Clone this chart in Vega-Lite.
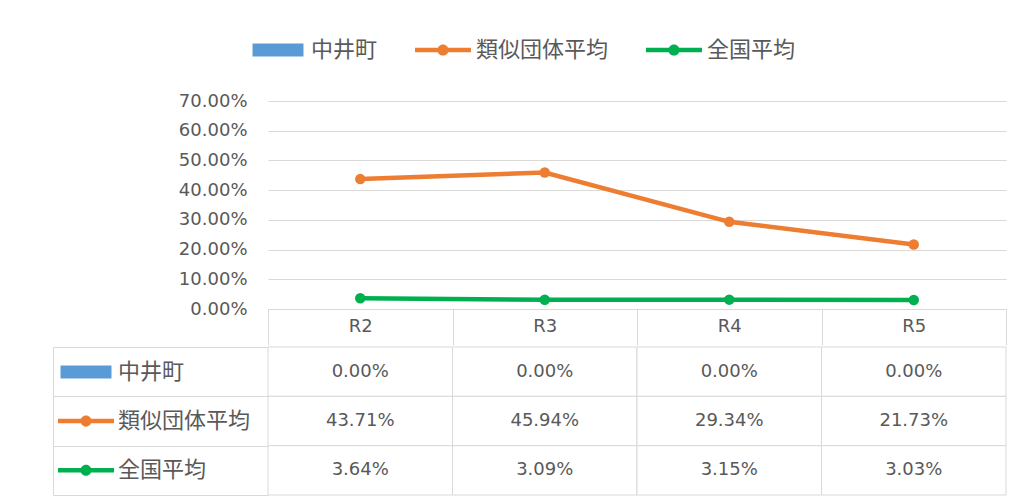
{
  "$schema": "https://vega.github.io/schema/vega-lite/v6.json",
  "autosize": {"type": "pad"},
  "padding": {"left": 5, "top": 22, "right": 0, "bottom": 0},
  "background": "white",
  "data": {"values": [
    {"year": "R2", "series": "中井町", "value": 0},
    {"year": "R3", "series": "中井町", "value": 0},
    {"year": "R4", "series": "中井町", "value": 0},
    {"year": "R5", "series": "中井町", "value": 0},
    {"year": "R2", "series": "類似団体平均", "value": 0.4371},
    {"year": "R3", "series": "類似団体平均", "value": 0.4594},
    {"year": "R4", "series": "類似団体平均", "value": 0.2934},
    {"year": "R5", "series": "類似団体平均", "value": 0.2173},
    {"year": "R2", "series": "全国平均", "value": 0.0364},
    {"year": "R3", "series": "全国平均", "value": 0.0309},
    {"year": "R4", "series": "全国平均", "value": 0.0315},
    {"year": "R5", "series": "全国平均", "value": 0.0303}
  ]},
  "spacing": 0,
  "resolve": {"scale": {"color": "independent", "x": "independent", "y": "independent"}, "legend": {"color": "independent"}},
  "vconcat": [
    {
      "width": 738,
      "height": 208,
      "encoding": {
        "x": {"field": "year", "type": "nominal", "bandPosition": 0.5,
          "scale": {"type": "band", "domain": ["R2", "R3", "R4", "R5"], "paddingInner": 0, "paddingOuter": 0},
          "axis": {"title": null, "orient": "bottom", "labelAngle": 0, "domain": true, "domainColor": "#D9D9D9", "ticks": true, "tickBand": "extent", "tickSize": 36, "tickColor": "#D9D9D9", "labelPadding": -19, "labelBaseline": "middle", "labelFont": "DejaVu Sans", "labelFontSize": 18, "labelColor": "#595959", "grid": false}},
        "y": {"field": "value", "type": "quantitative",
          "scale": {"domain": [0, 0.7], "nice": false, "zero": true},
          "axis": {"title": null, "values": [0, 0.1, 0.2, 0.3, 0.4, 0.5, 0.6, 0.7], "format": ".2%", "domain": false, "ticks": false, "labelPadding": 21, "labelFont": "DejaVu Sans", "labelFontSize": 18, "labelColor": "#595959", "grid": true, "gridColor": "#D9D9D9", "gridWidth": 1, "minExtent": 263}},
        "color": {"field": "series", "type": "nominal",
          "scale": {"domain": ["中井町", "類似団体平均", "全国平均"], "range": ["#5B9BD5", "#ED7D31", "#00B050"]},
          "legend": {"orient": "none", "legendX": -18, "legendY": -79, "direction": "horizontal", "title": null, "padding": 0, "symbolSize": 3136, "columnPadding": 37, "labelOffset": 5, "labelFont": "Noto Sans CJK JP", "labelFontSize": 22, "labelColor": "#595959", "labelLimit": 300,
            "encode": {"symbols": {"update": {
              "shape": {"signal": "datum.value === '中井町' ? 'M-0.91,-0.23H0.91V0.23H-0.91Z' : 'M-1,-0.08H1V0.08H-1Z M-0.2,0A0.2,0.2 0 1,1 0.2,0A0.2,0.2 0 1,1 -0.2,0Z'"},
              "fill": {"signal": "datum.value === '中井町' ? '#5B9BD5' : datum.value === '類似団体平均' ? '#ED7D31' : '#00B050'"},
              "stroke": {"value": "transparent"},
              "strokeWidth": {"value": 0},
              "opacity": {"value": 1}
            }}}}}
      },
      "layer": [
        {"transform": [{"filter": "datum.series === '中井町'"}], "mark": {"type": "bar"}},
        {"transform": [{"filter": "datum.series !== '中井町'"}], "mark": {"type": "line", "strokeWidth": 4.5, "point": {"filled": true, "size": 110}}}
      ]
    },
    {
      "width": 738,
      "height": 148,
      "encoding": {
        "x": {"field": "year", "type": "nominal",
          "scale": {"type": "band", "domain": ["R2", "R3", "R4", "R5"], "paddingInner": 0, "paddingOuter": 0},
          "axis": null},
        "y": {"field": "series", "type": "nominal",
          "scale": {"type": "band", "domain": ["中井町", "類似団体平均", "全国平均"], "paddingInner": 0, "paddingOuter": 0},
          "axis": {"title": null, "orient": "left", "offset": 215, "domain": true, "domainColor": "#D9D9D9", "ticks": true, "tickBand": "extent", "tickSize": -215, "tickColor": "#D9D9D9", "labels": false, "grid": false, "minExtent": 48, "maxExtent": 48}},
        "color": {"field": "series", "type": "nominal",
          "scale": {"domain": ["中井町", "類似団体平均", "全国平均"], "range": ["#5B9BD5", "#ED7D31", "#00B050"]},
          "legend": {"orient": "none", "legendX": -197, "legendY": 10, "direction": "vertical", "title": null, "padding": 0, "symbolSize": 900, "rowPadding": 23.1, "labelOffset": 17, "labelFont": "Noto Sans CJK JP", "labelFontSize": 22, "labelColor": "#595959", "labelLimit": 300,
            "encode": {"symbols": {"update": {
              "shape": {"signal": "datum.value === '中井町' ? 'M-1.7,-0.43H1.7V0.43H-1.7Z' : 'M-1.87,-0.15H1.87V0.15H-1.87Z M-0.37,0A0.37,0.37 0 1,1 0.37,0A0.37,0.37 0 1,1 -0.37,0Z'"},
              "fill": {"signal": "datum.value === '中井町' ? '#5B9BD5' : datum.value === '類似団体平均' ? '#ED7D31' : '#00B050'"},
              "stroke": {"value": "transparent"},
              "strokeWidth": {"value": 0},
              "opacity": {"value": 1}
            }}}}}
      },
      "layer": [
        {"mark": {"type": "rect", "stroke": "#D9D9D9", "strokeWidth": 1}, "encoding": {"color": {"value": "white"}}},
        {"mark": {"type": "text", "font": "DejaVu Sans", "fontSize": 18, "baseline": "middle", "align": "center"},
          "encoding": {"text": {"field": "value", "type": "quantitative", "format": ".2%"}, "color": {"value": "#595959"}}},
        {"mark": {"type": "bar", "opacity": 0}}
      ]
    }
  ],
  "config": {"view": {"stroke": null}}
}
